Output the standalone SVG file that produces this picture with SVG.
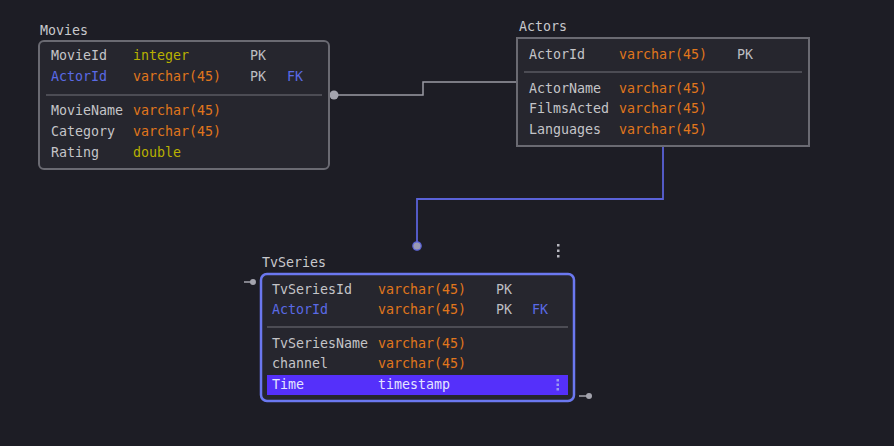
<svg xmlns="http://www.w3.org/2000/svg" width="894" height="446" viewBox="0 0 894 446">
<style>
text{font-family:"DejaVu Sans Mono","Liberation Mono",monospace;font-size:13.3px;dominant-baseline:central}
.title{fill:#c8c8cc}
.nm{fill:#c4c4c8}
.fk{fill:#5a6ae6}
.vc{fill:#e0761c}
.yl{fill:#b8b000}
.pk{fill:#bdbdc2}
.box{fill:#26262e;stroke:#6a6a72;stroke-width:2}
.sep{stroke:#5a5a62;stroke-width:1.5}
.sel{fill:#26262e;stroke:#6b78f0;stroke-width:2.5}
</style>
<rect width="894" height="446" fill="#1d1d25"/>
<g id="connectors">
  <polyline points="334,95 423,95 423,82 517,82" fill="none" stroke="#9a9aa4" stroke-width="1.5"/>
  <circle cx="334" cy="95" r="4.5" fill="#a4a4ae"/>
  <polyline points="663,147 663,199 417,199 417,246" fill="none" stroke="#5a62d8" stroke-width="1.8"/>
  <circle cx="417" cy="246" r="4.2" fill="#9a9ab4" stroke="#5a62d8" stroke-width="1.2"/>
  <line x1="244" y1="282" x2="253" y2="282" stroke="#a4a4ae" stroke-width="1.5"/>
  <circle cx="253" cy="282" r="3" fill="#a4a4ae"/>
  <line x1="579" y1="396" x2="589" y2="396" stroke="#a4a4ae" stroke-width="1.5"/>
  <circle cx="589" cy="396" r="3" fill="#a4a4ae"/>
</g>
<g id="movies">
  <text class="title" x="40" y="30">Movies</text>
  <rect class="box" x="39" y="41" width="290" height="128" rx="5"/>
  <text class="nm" x="51" y="55">MovieId</text><text class="yl" x="133" y="55">integer</text><text class="pk" x="250" y="55">PK</text>
  <text class="fk" x="51" y="76">ActorId</text><text class="vc" x="133" y="76">varchar(45)</text><text class="pk" x="250" y="76">PK</text><text class="fk" x="287" y="76">FK</text>
  <line class="sep" x1="46" y1="95" x2="322" y2="95"/>
  <text class="nm" x="51" y="110">MovieName</text><text class="vc" x="133" y="110">varchar(45)</text>
  <text class="nm" x="51" y="131">Category</text><text class="vc" x="133" y="131">varchar(45)</text>
  <text class="nm" x="51" y="152">Rating</text><text class="yl" x="133" y="152">double</text>
</g>
<g id="actors">
  <text class="title" x="519" y="26">Actors</text>
  <rect class="box" x="517" y="38" width="292" height="108"/>
  <text class="nm" x="529" y="54">ActorId</text><text class="vc" x="619" y="54">varchar(45)</text><text class="pk" x="737" y="54">PK</text>
  <line class="sep" x1="524" y1="72" x2="802" y2="72"/>
  <text class="nm" x="529" y="88">ActorName</text><text class="vc" x="619" y="88">varchar(45)</text>
  <text class="nm" x="529" y="108">FilmsActed</text><text class="vc" x="619" y="108">varchar(45)</text>
  <text class="nm" x="529" y="129">Languages</text><text class="vc" x="619" y="129">varchar(45)</text>
</g>
<g id="tvseries">
  <text class="title" x="262" y="262">TvSeries</text>
  <g fill="#b8b8c0"><rect x="557" y="244" width="2.5" height="2.5"/><rect x="557" y="249.5" width="2.5" height="2.5"/><rect x="557" y="255" width="2.5" height="2.5"/></g>
  <rect class="sel" x="261" y="274" width="313" height="127" rx="6"/>
  <text class="nm" x="272" y="289">TvSeriesId</text><text class="vc" x="378" y="289">varchar(45)</text><text class="pk" x="496" y="289">PK</text>
  <text class="fk" x="272" y="309">ActorId</text><text class="vc" x="378" y="309">varchar(45)</text><text class="pk" x="496" y="309">PK</text><text class="fk" x="532" y="309">FK</text>
  <line class="sep" x1="267" y1="327" x2="568" y2="327"/>
  <text class="nm" x="272" y="343">TvSeriesName</text><text class="vc" x="378" y="343">varchar(45)</text>
  <text class="nm" x="272" y="363">channel</text><text class="vc" x="378" y="363">varchar(45)</text>
  <rect x="267" y="375" width="301" height="20" fill="#5530fa"/>
  <text x="272" y="384" fill="#e4e4ff">Time</text><text x="378" y="384" fill="#e4e4ff">timestamp</text>
  <g fill="#9a9af0"><rect x="556.5" y="379" width="2.5" height="2.5"/><rect x="556.5" y="383.5" width="2.5" height="2.5"/><rect x="556.5" y="388" width="2.5" height="2.5"/></g>
</g>
</svg>
